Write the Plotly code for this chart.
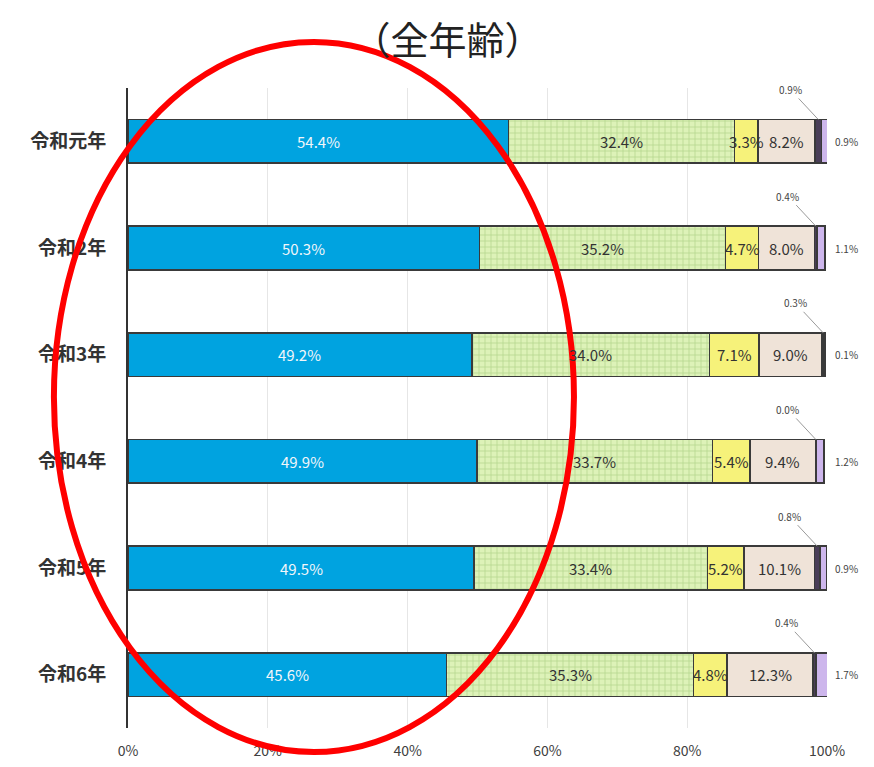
import plotly.graph_objects as go

categories = ["令和元年", "令和2年", "令和3年", "令和4年", "令和5年", "令和6年"]
s_blue = [54.4, 50.3, 49.2, 49.9, 49.5, 45.6]
s_green = [32.4, 35.2, 34.0, 33.7, 33.4, 35.3]
s_yellow = [3.3, 4.7, 7.1, 5.4, 5.2, 4.8]
s_beige = [8.2, 8.0, 9.0, 9.4, 10.1, 12.3]
s_dark = [0.9, 0.4, 0.3, 0.0, 0.8, 0.4]
s_purple = [0.9, 1.1, 0.1, 1.2, 0.9, 1.7]
x_ticks = [0, 20, 40, 60, 80, 100]
x_ticklabels = ["0%", "20%", "40%", "60%", "80%", "100%"]

series = [s_blue, s_green, s_yellow, s_beige, s_dark, s_purple]
colors = ["#00A3E0", "#DDF2B8", "#F6F27A", "#EFE3D8", "#4A3E58", "#CDB6EC"]
ypos = list(range(len(categories)))
BW = 0.41
FONT = "Noto Sans CJK JP, Noto Sans, sans-serif"

fig = go.Figure()
for k, (vals, col) in enumerate(zip(series, colors)):
    marker = dict(color=col, line=dict(color="#3A3A3A", width=1.5))
    if k == 1:
        marker["pattern"] = dict(shape="+", fgcolor="#86B85C", bgcolor=col, size=6, solidity=0.22)
    fig.add_trace(go.Bar(x=vals, y=ypos, orientation="h", width=BW, marker=marker,
                         showlegend=False, hoverinfo="skip"))

annotations = []
for i in range(len(categories)):
    cum = 0.0
    for k, vals in enumerate(series):
        v = vals[i]
        mid = cum + v / 2
        if k < 4:
            annotations.append(dict(x=mid, y=ypos[i], text=f"{v:.1f}%", showarrow=False,
                                    font=dict(size=15, color="#F2F6FA" if k == 0 else "#333333", family=FONT)))
        elif k == 4:
            annotations.append(dict(x=mid, y=ypos[i] - BW / 2, text=f"{v:.1f}%", showarrow=True,
                                    arrowhead=0, arrowwidth=1, arrowcolor="#9A9A9A",
                                    ax=-28, ay=-30, font=dict(size=10, color="#444444", family=FONT)))
        else:
            annotations.append(dict(x=100, y=ypos[i], text=f"{v:.1f}%", showarrow=False,
                                    xanchor="left", xshift=6,
                                    font=dict(size=10, color="#444444", family=FONT)))
        cum += v

fig.update_layout(
    barmode="stack",
    width=874, height=767,
    margin=dict(l=120, r=55, t=80, b=47),
    paper_bgcolor="white", plot_bgcolor="white",
    font=dict(family=FONT, color="#333333"),
    title=dict(text="（全年齢）", x=0.503, xanchor="center", y=0.958, yanchor="middle",
               font=dict(size=38, color="#222222", family=FONT)),
    annotations=annotations,
    xaxis=dict(range=[0, 100], tickvals=x_ticks, ticktext=x_ticklabels,
               showgrid=True, gridcolor="#E6E6E6", gridwidth=1, zeroline=False,
               showline=False, ticks="", ticklabelstandoff=13,
               tickfont=dict(size=14, color="#404040", family=FONT)),
    yaxis=dict(range=[len(categories) - 0.5, -0.5], tickvals=ypos, ticktext=categories,
               showgrid=False, zeroline=False, showline=True, linecolor="#333333", linewidth=2,
               ticks="", ticklabelstandoff=16,
               tickfont=dict(size=19, color="#333333", family=FONT, weight=600)),
    shapes=[dict(type="circle", xref="paper", yref="paper",
                 x0=-0.106, x1=0.638, y0=-0.0375, y1=1.072,
                 line=dict(color="#FF0000", width=6), layer="above")],
)

fig.write_html("out.html")
